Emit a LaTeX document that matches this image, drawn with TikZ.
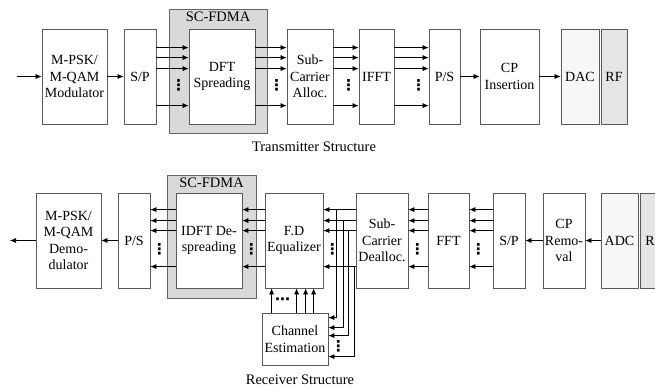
\documentclass[tikz,border=0pt]{standalone}
\usepackage{fontspec}
\setmainfont{Liberation Serif}
\newfontfamily\dotfont{DejaVu Sans}
\usetikzlibrary{arrows.meta}
\tikzset{%
	blk/.style = { draw=black!65, line width=0.8pt, fill=white, minimum height=95, inner sep=1pt, align=center, font=\fontsize{14}{16.5}\selectfont },
	group/.style = { draw=black!60, line width=0.8pt, fill=black!15 },
	arr/.style = { -{Latex[length=6pt,width=5pt]}, line width=0.6pt },
	caption/.style = { font=\fontsize{14.5}{16}\selectfont },
	dts/.style = { inner sep=0pt, font=\dotfont\bfseries\fontsize{15}{15}\selectfont }
}
\begin{document}
\begin{tikzpicture}[x=1pt, y=-1pt]
	\useasboundingbox (0,0) rectangle (655,390);
	% Sender
	\node[group, minimum width=98, minimum height=124] (sc1) at (218,71) {};
	\node[caption, anchor=north, inner sep=3.5pt] (sc1lbl) at (sc1.north) {SC-FDMA};
	\node[blk, minimum width=65] (mod) at (74.5,76.5) {M-PSK/\\M-QAM\\Modulator};
	\node[blk, minimum width=32] (sp) at (140,76.5) {S/P};
	\node[blk, minimum width=66] (dft) at (222,76.5) {DFT\\Spreading};
	\node[blk, minimum width=46] (sca) at (310,76.5) {Sub-\\Carrier\\Alloc.};
	\node[blk, minimum width=35] (ifft) at (376.5,76.5) {IFFT};
	\node[blk, minimum width=31] (ps) at (444.5,76.5) {P/S};
	\node[blk, minimum width=59] (cpi) at (509.5,76.5) {CP\\Insertion};
	\node[blk, minimum width=38, fill=black!3] (dac) at (580,76.5) {DAC};
	\node[blk, minimum width=26, fill=black!10] (rf) at (614,76.5) {RF};
	\coordinate (in) at (17,76.5);
	\node[caption] (txcap) at (314,147) {Transmitter Structure};
	\draw[arr] (in) -- (mod.west);
	\draw[arr] (mod) -- (sp);
	\foreach \a/\b [count=\i] in {sp/dft, dft/sca, sca/ifft, ifft/ps} {
		\foreach \d in {19,29,40,77}
			\draw[arr] ([yshift=-\d pt]\a.north east) -- ([yshift=-\d pt]\b.north west);
		\node[dts] (tdots\i) at ([xshift=-10pt,yshift=-57pt]\b.north west) {⋮};
	}
	\draw[arr] (ps) -- (cpi);
	\draw[arr] (cpi) -- (dac);
	% Empfaenger
	\node[group, minimum width=89, minimum height=123] (sc2) at (211.5,236.5) {};
	\node[caption, anchor=north, inner sep=3pt] (sc2lbl) at (sc2.north) {SC-FDMA};
	\node[blk, minimum width=65] (demod) at (68.5,240.5) {M-PSK/\\M-QAM\\Demo-\\dulator};
	\node[blk, minimum width=32] (ps2) at (134,240.5) {P/S};
	\node[blk, minimum width=66] (idft) at (209,240.5) {IDFT De-\\spreading};
	\node[blk, minimum width=58] (fde) at (294,240.5) {F.D\\Equalizer};
	\node[blk, minimum width=52] (scd) at (382,240.5) {Sub-\\Carrier\\Dealloc.};
	\node[blk, minimum width=41] (fft) at (448.5,240.5) {FFT};
	\node[blk, minimum width=32] (sp2) at (509,240.5) {S/P};
	\node[blk, minimum width=42] (cpr) at (564,240.5) {CP\\Remo-\\val};
	\node[blk, minimum width=37, fill=black!3] (adc) at (619.5,240.5) {ADC};
	\node[blk, minimum width=28, fill=black!10] (rf2) at (654,240.5) {RF};
	\node[blk, minimum width=66, minimum height=52] (ce) at (295,339) {Channel\\Estimation};
	\coordinate (out) at (10,240.5);
	\node[caption] (rxcap) at (300,380) {Receiver Structure};
	\draw[arr] (adc) -- (cpr);
	\draw[arr] (cpr) -- (sp2);
	\foreach \a/\b [count=\i] in {sp2/fft, fft/scd, scd/fde, fde/idft, idft/ps2} {
		\foreach \d in {17,28,38,74}
			\draw[arr] ([yshift=-\d pt]\a.north west) -- ([yshift=-\d pt]\b.north east);
		\node[dts] (rdots\i) at ([xshift=9pt,yshift=-57pt]\b.north east) {⋮};
	}
	\draw[arr] (ps2) -- (demod);
	\draw[arr] (demod.west) -- (out);
	% Kanalschaetzung
	\foreach \d/\x/\e in {17/13/5, 28/20/15, 38/25/23, 74/31/44}
		\draw[arr] ([xshift=\x pt,yshift=-\d pt]fde.north east) |- ([yshift=-\e pt]ce.north east);
	\node[dts] (cedots) at ([xshift=10pt,yshift=-34pt]ce.north east) {⋮};
	\foreach \x in {10,35,44,52}
		\draw[arr] ([xshift=\x pt]ce.north west) -- ([xshift=\x pt]ce.north west |- fde.south);
	\node[dts] (updots) at ([xshift=21pt,yshift=11pt]ce.north west) {⋯};
\end{tikzpicture}
\end{document}
